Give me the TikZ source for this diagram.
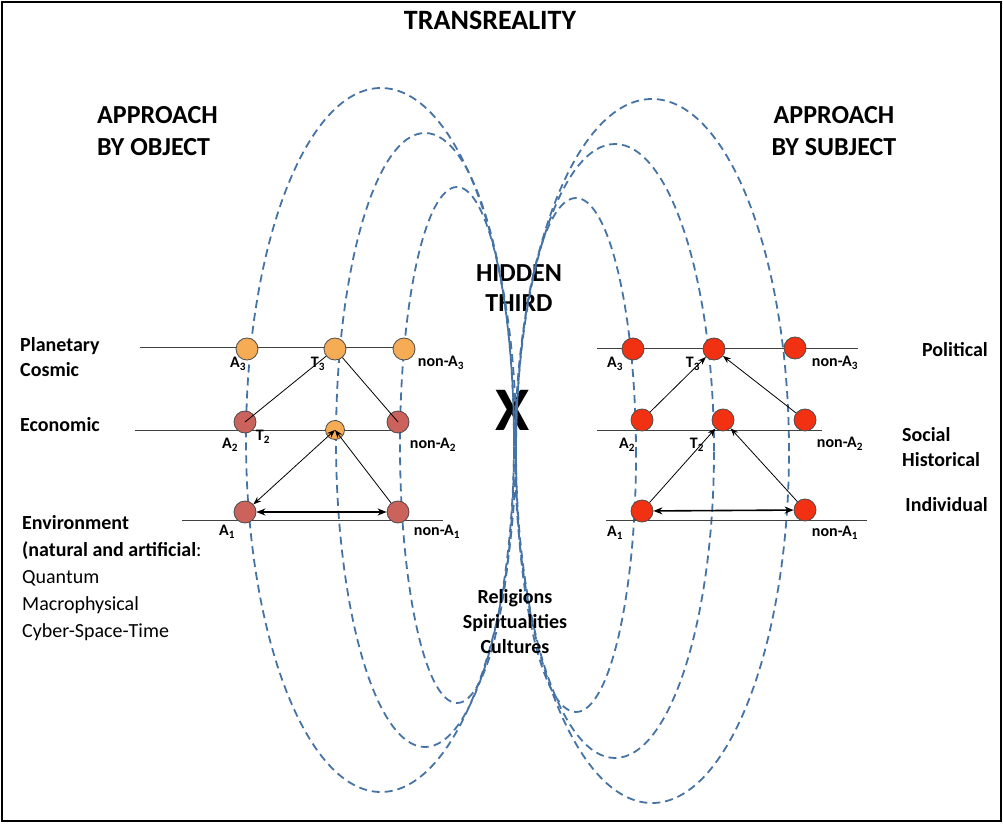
\documentclass[tikz,border=0pt]{standalone}
\usepackage{fontspec}
\setmainfont{Carlito}
\usetikzlibrary{arrows.meta}

\definecolor{orbitblue}{RGB}{70,115,165}
\definecolor{dotorange}{RGB}{246,172,84}
\definecolor{dotrose}{RGB}{204,98,92}
\definecolor{dotred}{RGB}{242,48,18}

\begin{document}
\begin{tikzpicture}[x=1pt,y=1pt,
	every node/.style = {inner sep=0pt, font=\bfseries\fontsize{20}{25}\selectfont},
	head/.style = {font=\bfseries\fontsize{26}{32}\selectfont},
	dot/.style = {circle, draw=black!70, line width=0.8pt, minimum size=22pt},
	lab/.style = {font=\bfseries\fontsize{16}{18}\selectfont},
	orbit/.style = {draw=orbitblue, line width=1.8pt, dash pattern=on 8pt off 5pt},
	level/.style = {draw=black!75, line width=1pt},
	arr/.style = {-{Stealth[length=8pt,width=6pt]}, line width=0.8pt},
	harr/.style = {{Stealth[length=9pt,width=7pt]}-{Stealth[length=9pt,width=7pt]}, line width=1.6pt}]

\useasboundingbox (0,0) rectangle (1003,823);
\draw[line width=2pt] (2,2) rectangle (1001,821);

% titles
\node[head, font=\bfseries\fontsize{28}{30}\selectfont] (title) at (490,803) {TRANSREALITY};
\node[head, align=left, anchor=west] (obj) at (97,692) {APPROACH\\BY OBJECT};
\node[head, align=center] (subj) at (834,692) {APPROACH\\BY SUBJECT};
\node[head, align=center, font=\bfseries\fontsize{26}{30}\selectfont] (hidden) at (519,535) {HIDDEN\\THIRD};
\node[font=\bfseries\fontsize{62}{62}\selectfont] (x) at (513,413) {X};

% the six loops through the hidden third
\foreach \cx/\cy/\rx/\ry in {381/383/135/352, 425/383/89/307, 457/378/57/258,
	576/368/60/257, 615/372/99/307, 652/372/137/352}
{
	\draw[orbit] (\cx,\cy) ellipse [x radius=\rx, y radius=\ry];
};

\node[align=center] (rel) at (515,201) {Religions\\Spiritualities\\Cultures};

% levels, object side
\node[align=left, anchor=west] (planet) at (20,466) {Planetary\\Cosmic};
\node[anchor=west] (econ) at (20,398) {Economic};
\node[align=left, anchor=north west, font=\fontsize{20}{27}\selectfont] (env) at (22,308)
	{\bfseries Environment\\\bfseries (natural and artificial\mdseries:\\Quantum\\Macrophysical\\Cyber-Space-Time};

% levels, subject side
\node[anchor=east] (polit) at (988,473) {Political};
\node[align=left, anchor=west] (social) at (902,376) {Social\\Historical};
\node[anchor=east] (indiv) at (988,318) {Individual};

% level lines
\coordinate (lw3) at (140,475); \coordinate (le3) at (403,475);
\coordinate (lw2) at (135,393); \coordinate (le2) at (397,393);
\coordinate (lw1) at (182,303); \coordinate (le1) at (443,303);
\coordinate (rw3) at (597,474); \coordinate (re3) at (858,474);
\coordinate (rw2) at (597,393); \coordinate (re2) at (822,393);
\coordinate (rw1) at (606,303); \coordinate (re1) at (867,303);
\foreach \a/\b in {lw3/le3,lw2/le2,lw1/le1,rw3/re3,rw2/re2,rw1/re1}
{
	\draw[level] (\a) -- (\b);
};

% dots
\node[dot, fill=dotorange] (la3) at (247,474) {};
\node[dot, fill=dotorange] (lt3) at (335,474) {};
\node[dot, fill=dotorange] (lna3) at (404,474) {};
\node[dot, fill=dotrose] (la2) at (245,401) {};
\node[dot, fill=dotorange, minimum size=19pt] (lt2) at (335,393) {};
\node[dot, fill=dotrose] (lna2) at (398,401) {};
\node[dot, fill=dotrose] (la1) at (245,311) {};
\node[dot, fill=dotrose] (lna1) at (398,311) {};

\node[dot, fill=dotred] (ra3) at (633,474) {};
\node[dot, fill=dotred] (rt3) at (714,474) {};
\node[dot, fill=dotred] (rna3) at (795,475) {};
\node[dot, fill=dotred] (ra2) at (642,403) {};
\node[dot, fill=dotred] (rt2) at (723,403) {};
\node[dot, fill=dotred] (rna2) at (805,403) {};
\node[dot, fill=dotred] (ra1) at (642,312) {};
\node[dot, fill=dotred] (rna1) at (805,313) {};

% dot labels
\node[lab] (la3l) at (238,459) {A\textsubscript{3}};
\node[lab] (lt3l) at (318,459) {T\textsubscript{3}};
\node[lab] (lna3l) at (441,460) {non-A\textsubscript{3}};
\node[lab] (la2l) at (230,378) {A\textsubscript{2}};
\node[lab] (lt2l) at (263,386) {T\textsubscript{2}};
\node[lab] (lna2l) at (433,378) {non-A\textsubscript{2}};
\node[lab] (la1l) at (227,291) {A\textsubscript{1}};
\node[lab] (lna1l) at (437,291) {non-A\textsubscript{1}};

\node[lab] (ra3l) at (615,459) {A\textsubscript{3}};
\node[lab] (rt3l) at (693,459) {T\textsubscript{3}};
\node[lab] (rna3l) at (835,460) {non-A\textsubscript{3}};
\node[lab] (ra2l) at (627,378) {A\textsubscript{2}};
\node[lab] (rt2l) at (697,378) {T\textsubscript{2}};
\node[lab] (rna2l) at (840,379) {non-A\textsubscript{2}};
\node[lab] (ra1l) at (615,290) {A\textsubscript{1}};
\node[lab] (rna1l) at (835,290) {non-A\textsubscript{1}};

% object side
\draw[line width=0.8pt] (la2.center) -- (lt3);
\draw[line width=0.8pt] (lna2.center) -- (lt3);
\draw[arr, {Stealth[length=8pt,width=6pt]}-{Stealth[length=8pt,width=6pt]}] (la1) -- (lt2.center);
\draw[arr] (lna1) -- (lt2.center);
\draw[harr] (la1) -- (lna1);

% subject side
\draw[arr] (ra2) -- (rt3);
\draw[arr] (rna2) -- (rt3);
\draw[arr] (ra1) -- (rt2);
\draw[arr] (rna1) -- (rt2);
\draw[harr] (ra1) -- (rna1);
\end{tikzpicture}
\end{document}
